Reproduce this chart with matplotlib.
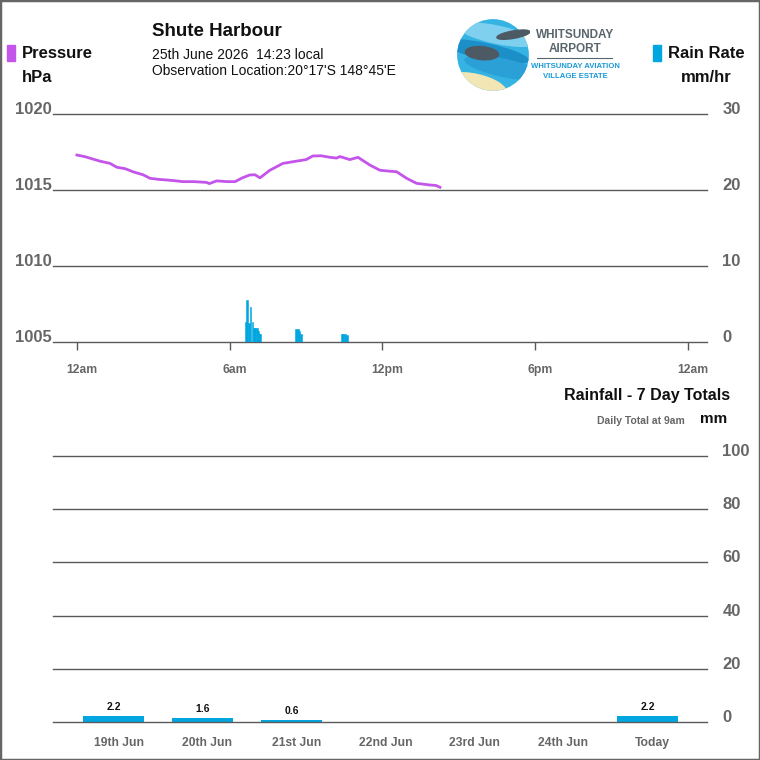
import matplotlib
matplotlib.use("Agg")
import matplotlib.pyplot as plt
from matplotlib.patches import Rectangle, Circle, Ellipse
from matplotlib.transforms import ScaledTranslation

plt.rcParams['font.family'] = ['Liberation Sans', 'DejaVu Sans']

# pressure trace (hours since midnight, hPa)
p_hours = [0.0, 0.3, 0.9, 1.3, 1.56, 1.9, 2.2, 2.6, 2.87, 3.2, 3.52, 3.9, 4.16, 4.6,
           5.09, 5.2, 5.49, 5.9, 6.21, 6.5, 6.79, 7.0, 7.19, 7.58, 8.09, 8.63, 9.0,
           9.27, 9.6, 9.94, 10.2, 10.33, 10.72, 11.04, 11.51, 11.9, 12.2, 12.56,
           12.95, 13.34, 13.86, 14.1, 14.26]
p_values = [1017.3, 1017.2, 1016.9, 1016.75, 1016.5, 1016.4, 1016.2, 1016.0, 1015.77,
            1015.7, 1015.66, 1015.6, 1015.55, 1015.55, 1015.5, 1015.42, 1015.6, 1015.55,
            1015.55, 1015.8, 1015.99, 1016.0, 1015.8, 1016.3, 1016.75, 1016.9, 1017.0,
            1017.24, 1017.25, 1017.15, 1017.1, 1017.2, 1017.0, 1017.15, 1016.64, 1016.3,
            1016.25, 1016.2, 1015.77, 1015.44, 1015.33, 1015.3, 1015.18]

# rain rate (hours since midnight, mm/hr)
r_hours = [6.61, 6.65, 6.72, 6.78, 6.86, 6.91, 6.97, 7.03, 7.07, 7.12, 7.16,
           8.56, 8.63, 8.70, 8.76,
           10.37, 10.43, 10.50, 10.56]
r_rates = [2.6, 5.5, 2.5, 4.6, 2.6, 1.8, 1.8, 1.8, 1.4, 1.0, 1.0,
           1.7, 1.7, 1.4, 1.0,
           1.05, 1.05, 1.05, 0.95]

time_ticks = [0, 6, 12, 18, 24]
time_labels = ['12am', '6am', '12pm', '6pm', '12am']

# 7 day rainfall totals
days = ['19th Jun', '20th Jun', '21st Jun', '22nd Jun', '23rd Jun', '24th Jun', 'Today']
totals = [2.2, 1.6, 0.6, 0.0, 0.0, 0.0, 2.2]

PURPLE = '#c455ea'
BLUE = '#00a6e0'
GRID = '#5a5a5a'
LABEL = '#666666'

W = 760
fig = plt.figure(figsize=(7.6, 7.6), dpi=100)


def px(x, y):
    return x / W, 1 - y / W


def shift(labels, dx, dy):
    for lab in labels:
        lab.set_transform(lab.get_transform() + ScaledTranslation(dx / 100, dy / 100, fig.dpi_scale_trans))


# ---- top chart: pressure + rain rate
l, b = px(53, 342)
r, t = px(707, 114)
ax1 = fig.add_axes([l, b, r - l, t - b])
ax1.set_xlim(-0.94, 24.75)
ax1.set_ylim(1005, 1020)
for v in [1005, 1010, 1015, 1020]:
    ax1.axhline(v, color=GRID, lw=1.0, zorder=1, clip_on=False)
for s in ax1.spines.values():
    s.set_visible(False)
ax1.set_yticks([1005, 1010, 1015, 1020])
ax1.set_yticklabels(['1005', '1010', '1015', '1020'])
ax1.tick_params(axis='y', length=0, pad=1, labelsize=12, labelcolor=LABEL)
for lab in ax1.get_yticklabels():
    lab.set_fontweight('bold')
shift(ax1.get_yticklabels(), 0, 6)
ax1.set_xticks(time_ticks)
ax1.set_xticklabels(time_labels)
ax1.tick_params(axis='x', length=6, width=1, color=GRID, direction='out', pad=10,
                labelsize=8.7, labelcolor=LABEL)
for lab in ax1.get_xticklabels():
    lab.set_fontweight('bold')
shift(ax1.get_xticklabels(), 5, 0)
ax1.plot(p_hours, p_values, color=PURPLE, lw=2.0, zorder=3)

ax2 = ax1.twinx()
ax2.set_ylim(0, 30)
for s in ax2.spines.values():
    s.set_visible(False)
ax2.bar(r_hours, r_rates, width=0.075, align='edge', color=BLUE, edgecolor=BLUE,
        linewidth=0.4, zorder=2)
ax2.set_yticks([0, 10, 20, 30])
ax2.set_yticklabels(['0', '10', '20', '30'])
ax2.tick_params(axis='y', length=0, pad=11, labelsize=12, labelcolor=LABEL)
for lab in ax2.get_yticklabels():
    lab.set_fontweight('bold')
shift(ax2.get_yticklabels(), 0, 6)

# ---- bottom chart: 7 day totals
l, b = px(53, 722)
r, t = px(707, 456)
ax3 = fig.add_axes([l, b, r - l, t - b])
ax3.set_xlim(-0.68, 6.67)
ax3.set_ylim(0, 100)
for v in [0, 20, 40, 60, 80, 100]:
    ax3.axhline(v, color=GRID, lw=1.0, zorder=3 if v == 0 else 1, clip_on=False)
for s in ax3.spines.values():
    s.set_visible(False)
ax3.yaxis.tick_right()
ax3.set_yticks([0, 20, 40, 60, 80, 100])
ax3.set_yticklabels(['0', '20', '40', '60', '80', '100'])
ax3.tick_params(axis='y', length=0, pad=11, labelsize=12, labelcolor=LABEL)
for lab in ax3.get_yticklabels():
    lab.set_fontweight('bold')
shift(ax3.get_yticklabels(), 0, 6)
xs = list(range(len(days)))
ax3.bar(xs, totals, width=0.69, color=BLUE, zorder=2)
for x, v in zip(xs, totals):
    if v > 0:
        ax3.annotate(f'{v:.1f}', (x, v), xytext=(0, 3), textcoords='offset points',
                     ha='center', va='bottom', fontsize=7.5, fontweight='bold', color='#111111')
ax3.set_xticks(xs)
ax3.set_xticklabels(days)
ax3.tick_params(axis='x', length=0, pad=11, labelsize=8.7, labelcolor=LABEL)
for lab in ax3.get_xticklabels():
    lab.set_fontweight('bold')
shift(ax3.get_xticklabels(), 5, 0)

# ---- header texts
fig.text(*px(152, 32), 'Shute Harbour', fontsize=13.5, fontweight='bold', va='center', color='#111111')
fig.text(*px(152, 55), '25th June 2026  14:23 local', fontsize=10, va='center', color='#111111')
fig.text(*px(152, 71), 'Observation Location:20°17\'S 148°45\'E', fontsize=10, va='center', color='#111111')

fig.add_artist(Rectangle(px(7, 61), 8 / W, 16 / W, transform=fig.transFigure, color=PURPLE))
fig.text(*px(22, 54), 'Pressure', fontsize=12, fontweight='bold', va='center', color='#111111')
fig.text(*px(22, 77), 'hPa', fontsize=12, fontweight='bold', va='center', color='#111111')

fig.add_artist(Rectangle(px(653, 61), 8 / W, 16 / W, transform=fig.transFigure, color=BLUE))
fig.text(*px(668, 54), 'Rain Rate', fontsize=12, fontweight='bold', va='center', color='#111111')
fig.text(*px(732, 77), 'mm/hr', fontsize=12, fontweight='bold', va='center', ha='right', color='#111111')

fig.text(*px(730, 396), 'Rainfall - 7 Day Totals', fontsize=11.5, fontweight='bold',
         va='center', ha='right', color='#111111')
fig.text(*px(685, 421), 'Daily Total at 9am', fontsize=7.5, fontweight='bold',
         va='center', ha='right', color=LABEL)
fig.text(*px(727, 419), 'mm', fontsize=11, fontweight='bold', va='center', ha='right', color='#111111')

# ---- logo
l, b = px(455, 92)
r, t = px(531, 18)
lg = fig.add_axes([l, b, r - l, t - b])
lg.set_xlim(-1, 1)
lg.set_ylim(-1, 1)
lg.set_aspect('equal')
lg.axis('off')
circ = Circle((0, 0), 0.97, facecolor='#35b3e3', edgecolor='none')
lg.add_patch(circ)
for (cx, cy, w, h, c) in [(0.1, 0.55, 2.2, 0.5, '#7fd0ef'), (-0.2, 0.1, 2.4, 0.45, '#1c8fc8'),
                          (0.3, -0.35, 2.2, 0.5, '#2aa0d6'), (-0.5, -0.85, 1.8, 0.7, '#f2e7b4')]:
    e = Ellipse((cx, cy), w, h, angle=-12, facecolor=c, edgecolor='none')
    lg.add_patch(e)
    e.set_clip_path(circ)
lg.add_patch(Ellipse((0.55, 0.55), 0.9, 0.2, angle=10, color='#4d5a63'))
lg.add_patch(Ellipse((-0.3, 0.05), 0.9, 0.35, angle=-5, color='#4d5a63'))
fig.text(*px(575, 35), 'WHITSUNDAY', fontsize=8.5, fontweight='bold', ha='center', va='center',
         color='#59656d')
fig.text(*px(575, 49), 'AIRPORT', fontsize=8.5, fontweight='bold', ha='center', va='center',
         color='#59656d')
fig.add_artist(plt.Line2D([537 / W, 612 / W], [1 - 58 / W, 1 - 58 / W], transform=fig.transFigure,
                          color='#59656d', lw=0.8))
fig.text(*px(575, 67), 'WHITSUNDAY AVIATION', fontsize=5.6, fontweight='bold', ha='center', va='center',
         color='#1a9ad6')
fig.text(*px(575, 77), 'VILLAGE ESTATE', fontsize=5.6, fontweight='bold', ha='center', va='center',
         color='#1a9ad6')

# ---- outer border
fig.add_artist(Rectangle((0, 0), 1, 1, transform=fig.transFigure, fill=False,
                         edgecolor='#666666', lw=2.5))

fig.savefig('out.png', dpi=100)
